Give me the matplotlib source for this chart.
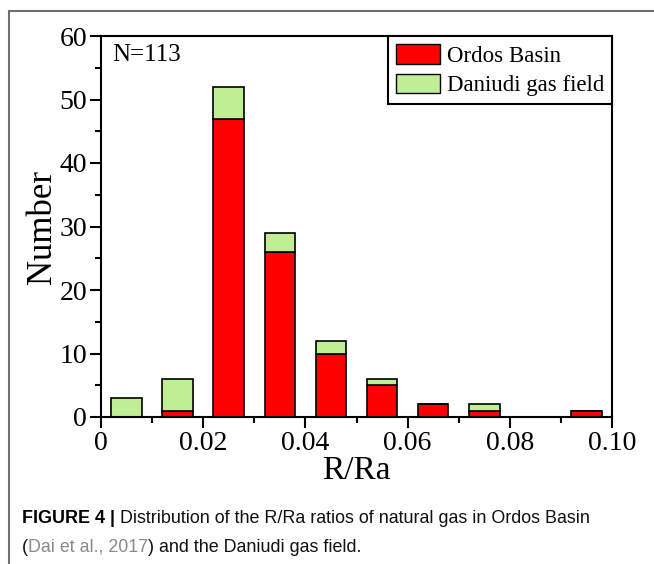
import matplotlib
matplotlib.use("Agg")
import matplotlib.pyplot as plt
import numpy as np
from matplotlib.patches import Patch
from matplotlib.lines import Line2D

# bin centres of R/Ra (bin width 0.01)
bin_centers = [0.005, 0.015, 0.025, 0.035, 0.045, 0.055, 0.065, 0.075, 0.085, 0.095]
ordos = [0, 1, 47, 26, 10, 5, 2, 1, 0, 1]
daniudi = [3, 5, 5, 3, 2, 1, 0, 1, 0, 0]

x_ticks = [0, 0.02, 0.04, 0.06, 0.08, 0.10]
x_ticklabels = ["0", "0.02", "0.04", "0.06", "0.08", "0.10"]
y_ticks = [0, 10, 20, 30, 40, 50, 60]

RED = "#ff0000"
GREEN = "#bfee94"
serif = "Liberation Serif"

fig = plt.figure(figsize=(6.54, 5.64), dpi=100)
ax = fig.add_axes([101 / 654, 1 - 417 / 564, 511 / 654, 381 / 564])

ax.bar(bin_centers, ordos, width=0.006, color=RED, edgecolor="black", linewidth=1.2)
ax.bar(bin_centers, daniudi, width=0.006, bottom=ordos, color=GREEN,
       edgecolor="black", linewidth=1.2)

ax.set_xlim(0, 0.10)
ax.set_ylim(0, 60)
ax.set_xticks(x_ticks)
ax.set_xticklabels(x_ticklabels)
ax.set_xticks(np.arange(0.01, 0.1, 0.02), minor=True)
ax.set_yticks(y_ticks)
ax.set_yticks(np.arange(5, 60, 10), minor=True)
ax.tick_params(which="major", direction="out", length=8, width=1.5, labelsize=20, pad=2)
ax.tick_params(which="minor", direction="out", length=4, width=1.5)
for lab in ax.get_xticklabels() + ax.get_yticklabels():
    lab.set_family(serif)
for s in ax.spines.values():
    s.set_linewidth(1.5)

ax.set_xlabel("R/Ra", family=serif, fontsize=24, labelpad=0)
ax.set_ylabel("Number", family=serif, fontsize=25, labelpad=0)

ax.text(0.022, 0.95, "N=113", transform=ax.transAxes, family=serif, fontsize=18,
        va="center", ha="left")

handles = [Patch(facecolor=RED, edgecolor="black", linewidth=1.0, label="Ordos Basin"),
           Patch(facecolor=GREEN, edgecolor="black", linewidth=1.0, label="Daniudi gas field")]
leg = ax.legend(handles=handles, loc="upper right", borderaxespad=0, fancybox=False,
                framealpha=1, edgecolor="black", prop={"family": serif, "size": 16.5},
                handlelength=1.9, handleheight=0.95, handletextpad=0.3,
                borderpad=0.35, labelspacing=0.3)
leg.get_frame().set_linewidth(1.5)

# panel frame (top and left border)
fig.add_artist(Line2D([9 / 654, 1], [1 - 11 / 564, 1 - 11 / 564], transform=fig.transFigure,
                      color="#707070", linewidth=1.5))
fig.add_artist(Line2D([9 / 654, 9 / 654], [0, 1 - 11 / 564], transform=fig.transFigure,
                      color="#707070", linewidth=1.5))

# caption, built from pieces placed one after another
cap = "Liberation Sans"
csize = 12.9
fig.canvas.draw()
renderer = fig.canvas.get_renderer()


def put(x, y, s, **kw):
    t = fig.text(x / 654, 1 - y / 564, s, fontsize=csize, family=cap, va="baseline", **kw)
    bb = t.get_window_extent(renderer)
    return x + bb.width


x = put(22, 523, "FIGURE 4 | ", weight="bold", color="black")
put(x, 523, "Distribution of the R/Ra ratios of natural gas in Ordos Basin", color="#111111")
x = put(22, 552, "(", color="#111111")
x = put(x, 552, "Dai et al., 2017", color="#8a8a8a")
put(x, 552, ") and the Daniudi gas field.", color="#111111")

fig.savefig("out.png", dpi=100)
